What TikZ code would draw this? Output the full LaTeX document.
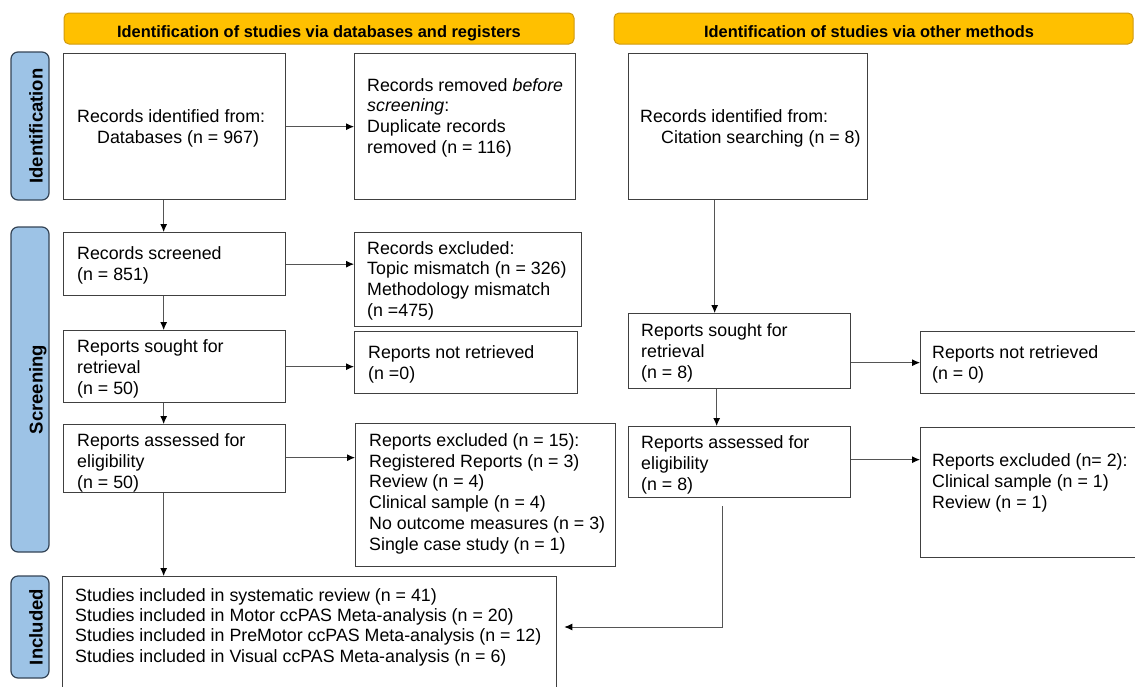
\documentclass[tikz,border=0pt]{standalone}
\usepackage{fontspec}
\setmainfont{Liberation Sans}
\usetikzlibrary{arrows.meta,calc}
\definecolor{hdrfill}{HTML}{FFC000}
\definecolor{hdrdraw}{HTML}{D09A10}
\definecolor{sidefill}{HTML}{9DC3E6}
\definecolor{sidedraw}{HTML}{344456}
\definecolor{boxdraw}{HTML}{404040}
\definecolor{arrc}{HTML}{555555}
\begin{document}
\begin{tikzpicture}[x=1pt,y=-1pt,
 box/.style={draw=boxdraw, line width=1.3pt, rectangle, inner sep=0pt, anchor=north west},
 txt/.style={inner sep=0pt, align=left, anchor=west, font=\fontsize{17.8}{20.8}\selectfont},
 hdr/.style={draw=hdrdraw, fill=hdrfill, rounded corners=5pt, line width=1pt, font=\bfseries\fontsize{16.4}{18}\selectfont, minimum height=31pt, inner sep=0pt, text height=17pt, text depth=0pt},
 side/.style={draw=sidedraw, fill=sidefill, rounded corners=7pt, line width=1.2pt, minimum height=38pt, rotate=90, inner sep=0pt, text height=25pt, text depth=0pt, font=\bfseries\fontsize{18.5}{20}\selectfont},
 arr/.style={draw=arrc, line width=0.9pt, -{Latex[length=8pt,width=7pt,color=black]}}
]
\useasboundingbox (0,0) rectangle (1135,686);

% headers
\node[hdr, minimum width=510pt] (h1) at (319,28.5) {Identification of studies via databases and registers};
\node[hdr, minimum width=519pt] (h2) at (873.5,28.5) {\hspace*{-9pt}Identification of studies via other methods};

% side labels
\node[side, minimum width=148pt] (s1) at (30,126) {Identification};
\node[side, minimum width=325pt] (s2) at (30,389.5) {Screening};
\node[side, minimum width=102pt] (s3) at (30,627) {Included};

% boxes left column
\node[box, minimum width=222pt, minimum height=146pt] (A) at (63,53) {};
\node[box, minimum width=221pt, minimum height=146pt] (B) at (354,53) {};
\node[box, minimum width=222pt, minimum height=63pt] (C) at (63,232) {};
\node[box, minimum width=227pt, minimum height=94pt] (D) at (354,232) {};
\node[box, minimum width=223pt, minimum height=62pt] (F) at (354,331) {};
\node[box, minimum width=222pt, minimum height=72pt] (E) at (63,330) {};
\node[box, minimum width=222pt, minimum height=68pt] (G) at (63,424) {};
\node[box, minimum width=260pt, minimum height=143pt] (H) at (355,423) {};
\node[box, minimum width=494pt, minimum height=130pt] (I) at (62,576) {};

% boxes right column
\node[box, minimum width=239pt, minimum height=146pt] (J) at (628,53) {};
\node[box, minimum width=222pt, minimum height=75pt] (K) at (628,313) {};
\node[box, minimum width=230pt, minimum height=62pt] (L) at (920,331) {};
\node[box, minimum width=222pt, minimum height=71pt] (M) at (628,426) {};
\node[box, minimum width=230pt, minimum height=130pt] (N) at (920,427) {};

% texts
\node[txt] (At) at ([xshift=14pt,yshift=-1.5pt]A.west) {Records identified from:\\\hspace*{20pt}Databases (n = 967)};
\node[txt] (Bt) at ([xshift=13pt,yshift=9pt]B.west) {Records removed \textit{before}\\\textit{screening}:\\Duplicate records\\removed (n = 116)};
\node[txt] (Ct) at ([xshift=14pt,yshift=-1pt]C.west) {Records screened\\(n = 851)};
\node[txt] (Dt) at ([xshift=13pt,yshift=-1pt]D.west) {Records excluded:\\Topic mismatch (n = 326)\\Methodology mismatch\\(n =475)};
\node[txt] (Et) at ([xshift=14pt,yshift=-2pt]E.west) {Reports sought for\\retrieval\\(n = 50)};
\node[txt] (Ft) at ([xshift=14pt,yshift=-1.5pt]F.west) {Reports not retrieved\\(n =0)};
\node[txt] (Gt) at ([xshift=14pt,yshift=-4pt]G.west) {Reports assessed for\\eligibility\\(n = 50)};
\node[txt] (Ht) at ([xshift=14pt,yshift=1.5pt]H.west) {Reports excluded (n = 15):\\Registered Reports (n = 3)\\Review (n = 4)\\Clinical sample (n = 4)\\No outcome measures (n = 3)\\Single case study (n = 1)};
\node[txt, anchor=north west, font=\fontsize{17.8}{20.4}\selectfont] (It) at (75,588) {Studies included in systematic review (n = 41)\\Studies included in Motor ccPAS Meta-analysis (n = 20)\\Studies included in PreMotor ccPAS Meta-analysis (n = 12)\\Studies included in Visual ccPAS Meta-analysis (n = 6)};
\node[txt] (Jt) at ([xshift=12pt,yshift=-1.5pt]J.west) {Records identified from:\\\hspace*{21pt}Citation searching (n = 8)};
\node[txt] (Kt) at ([xshift=13pt,yshift=-1.5pt]K.west) {Reports sought for\\retrieval\\(n = 8)};
\node[txt] (Lt) at ([xshift=12pt,yshift=-1.5pt]L.west) {Reports not retrieved\\(n = 0)};
\node[txt] (Mt) at ([xshift=13pt,yshift=-2.5pt]M.west) {Reports assessed for\\eligibility\\(n = 8)};
\node[txt] (Nt) at ([xshift=12pt,yshift=9.5pt]N.west) {Reports excluded (n= 2):\\Clinical sample (n = 1)\\Review (n = 1)};

% connectors left
\draw[arr] (A.east) -- (B.west);
\coordinate (ac) at ([xshift=-11pt]A.south);
\draw[arr] (ac) -- (ac |- C.north);
\draw[arr] (C.east) -- (C.east -| D.west);
\coordinate (ce) at ([xshift=-11pt]C.south);
\draw[arr] (ce) -- (ce |- E.north);
\draw[arr] (E.east) -- (E.east -| F.west);
\coordinate (eg) at ([xshift=-11pt]E.south);
\draw[arr] (eg) -- (eg |- G.north);
\draw[arr] ([yshift=1pt]G.east) -- ([yshift=1pt]G.east -| H.west);
\coordinate (gi) at ([xshift=-11pt]G.south);
\draw[arr] (gi) -- (gi |- I.north);

% connectors right
\coordinate (jk) at ([xshift=-25pt]K.north);
\draw[arr] (jk |- J.south) -- (jk);
\coordinate (kl) at ([yshift=-11.5pt]K.east);
\draw[arr] (kl) -- (kl -| L.west);
\coordinate (km) at ([xshift=-23pt]K.south);
\draw[arr] (km) -- (km |- M.north);
\coordinate (mn) at ([yshift=2.5pt]M.east);
\draw[arr] (mn) -- (mn -| N.west);
\coordinate (mi) at ([xshift=-17pt,yshift=-8pt]M.south);
\coordinate (ie) at ([xshift=7pt]I.east |- 0,627);
\draw[arr] (mi) |- (ie);
\end{tikzpicture}
\end{document}
